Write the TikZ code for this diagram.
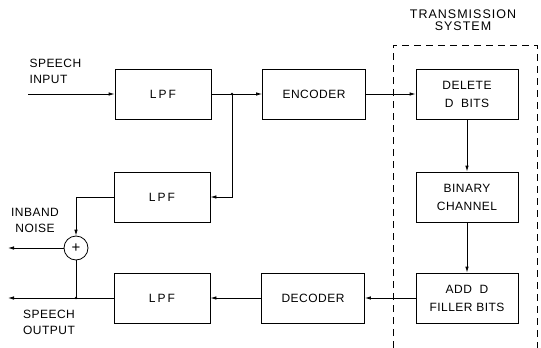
\documentclass[tikz,border=0pt]{standalone}
\usepackage{fontspec}
\setmainfont[LetterSpace=4]{Liberation Sans}
\usetikzlibrary{arrows.meta}

\tikzset{
  blk/.style = {draw, line width=0.8pt, minimum height=50pt, align=center,
                font=\fontsize{12}{18}\selectfont},
  lbl/.style = {align=center, font=\fontsize{12}{16}\selectfont},
  arr/.style = {line width=0.8pt, -{Latex[length=6pt,width=3.5pt]}},
  wire/.style = {line width=0.8pt},
}

\begin{document}
\begin{tikzpicture}[x=1pt, y=-1pt]
  \useasboundingbox (0,0) rectangle (541,348);

  % Widths
  \def\wL{96}
  \def\wC{103}
  \def\wT{102}

  % Filters
  \node[blk, minimum width=\wL] (lpfa) at (163,94) {L\,P\,F};
  \node[blk, minimum width=\wL] (lpfb) at (162,197) {L\,P\,F};
  \node[blk, minimum width=\wL] (lpfc) at (162,298) {L\,P\,F};

  % Coder
  \node[blk, minimum width=\wC] (enc) at (314,94) {ENCODER};
  \node[blk, minimum width=\wC] (dec) at (313,298) {DECODER};

  % Transmission system
  \node[blk, minimum width=\wT] (del) at (467,94) {DELETE\\D\ \ BITS};
  \node[blk, minimum width=\wT] (bin) at (467,197) {BINARY\\CHANNEL};
  \node[blk, minimum width=\wT] (add) at (467,298) {ADD\ \ D\\FILLER BITS};
  \draw[wire, dashed, dash pattern=on 7pt off 5pt] (393,348) -- (393,45) -- (537,45) -- (537,348);
  \node[lbl, font=\fontsize{12.5}{11.5}\selectfont\addfontfeature{LetterSpace=8}] (tsys) at (463,20) {TRANSMISSION\\SYSTEM};

  % Adder
  \node[wire, draw, circle, minimum size=24pt, inner sep=0pt, font=\fontsize{15}{15}\selectfont] (sum) at (76,248) {+};

  % Free ends and junctions
  \coordinate (in) at (28,94);
  \coordinate (ja) at (232,94);
  \coordinate (jb) at (76,298);
  \coordinate (noise) at (8,248);
  \coordinate (out) at (8,298);

  % Labels
  \node[lbl, align=left, anchor=west] (inlbl) at (26,71) {SPEECH\\INPUT};
  \node[lbl] (nslbl) at (35,220) {INBAND\\NOISE};
  \node[lbl] (outlbl) at (49,322) {SPEECH\\OUTPUT};

  % Forward path
  \draw[arr] (in) -- (lpfa);
  \draw[wire] (lpfa) -- (ja);
  \draw[arr] (ja) -- (enc);
  \draw[arr] (enc) -- (del);
  \draw[arr] (del) -- (bin);
  \draw[arr] (bin) -- (add);
  \draw[arr] (add) -- (dec);
  \draw[arr] (dec) -- (lpfc);

  % Noise branch
  \draw[arr] (ja) |- (lpfb.east);
  \draw[arr] (lpfb.west) -| (sum.north);
  \draw[arr] (sum) -- (noise);

  % Output
  \draw[wire] (lpfc) -- (jb);
  \draw[arr] (jb) -- (out);
  \draw[wire] (jb) -- (sum.south);

  % Dots
  \fill (ja) circle (1.3pt);
  \fill (jb) circle (1.3pt);
\end{tikzpicture}
\end{document}
